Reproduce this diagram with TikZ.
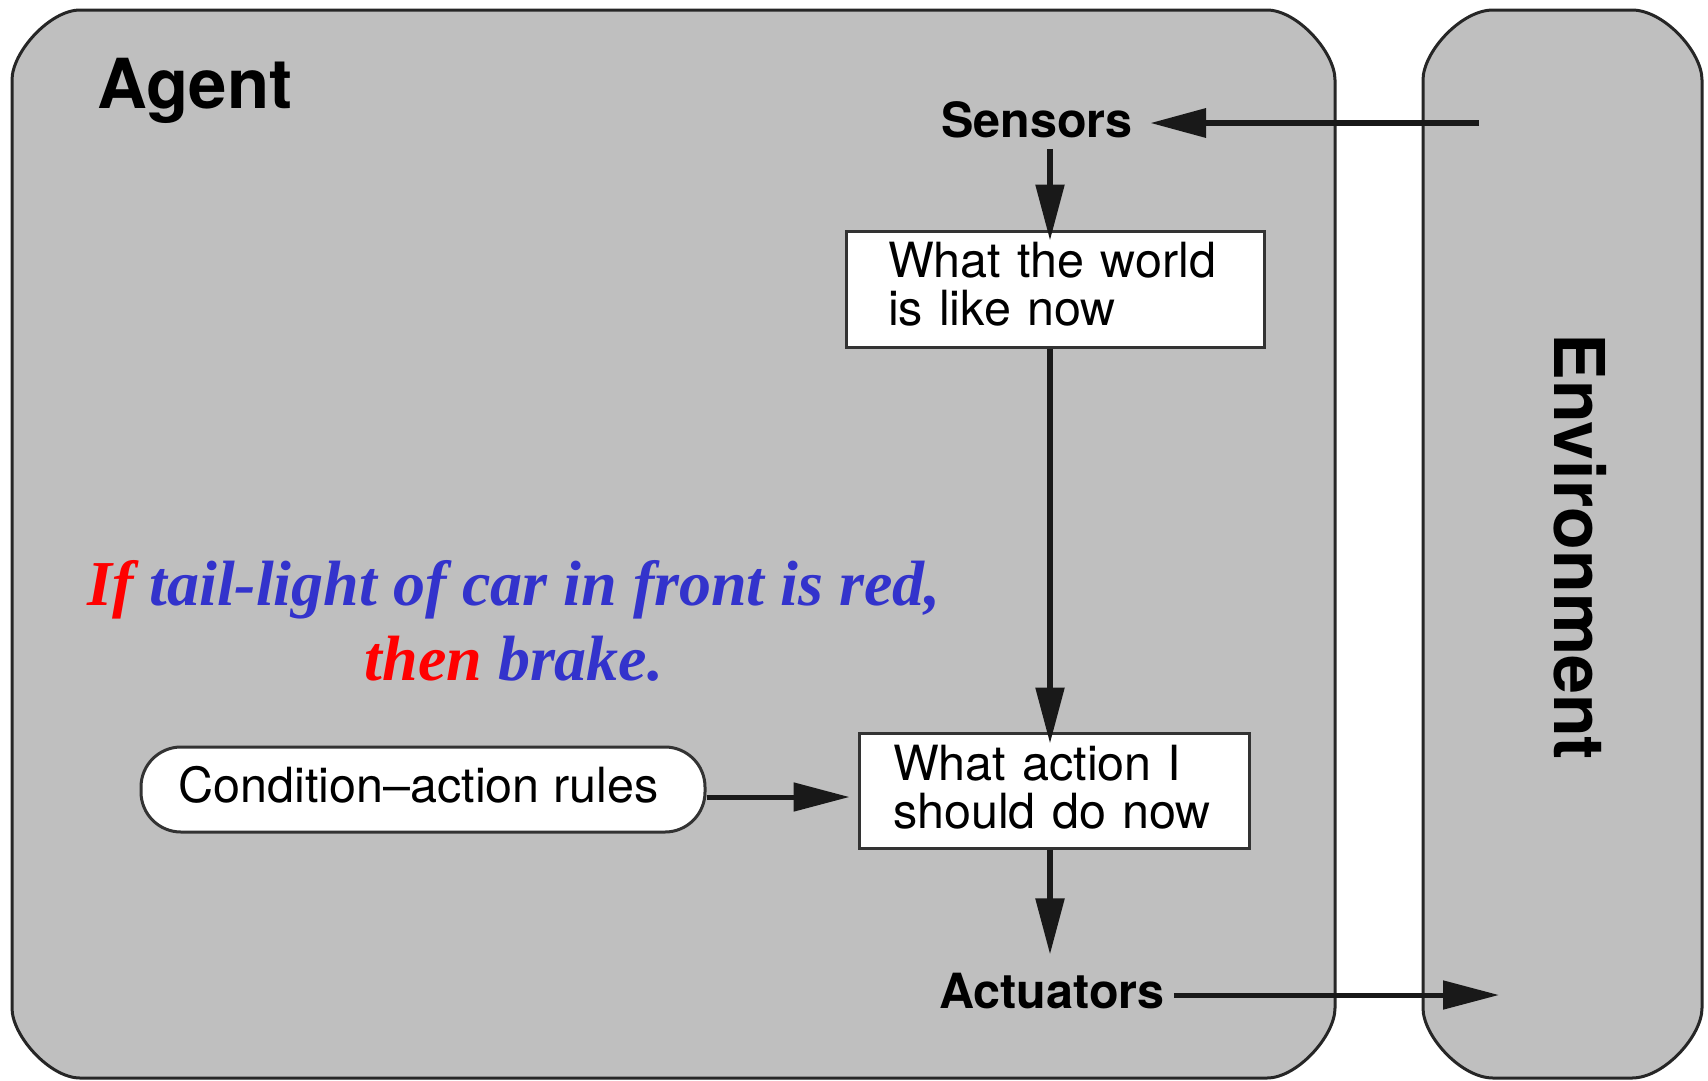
\documentclass[tikz,border=0pt]{standalone}
\usepackage{fontspec}
\usetikzlibrary{arrows.meta}
\newfontfamily\hv{TeX Gyre Heros}
\newfontfamily\tms{Liberation Serif}
\definecolor{panel}{RGB}{191,191,191}
\definecolor{ruleblue}{RGB}{51,51,204}
\definecolor{rulered}{RGB}{255,0,0}
\begin{document}
\begin{tikzpicture}[x=1pt,y=-1pt,
  panelbox/.style={draw=black!85, line width=3pt, fill=panel},
  infobox/.style={draw=black!80, line width=3pt, fill=white, align=left, inner ysep=0pt,
    font=\hv\fontsize{48.5}{48}\selectfont},
  lbl/.style={font=\hv\bfseries\fontsize{48.5}{48}\selectfont},
  arr/.style={-{Triangle[length=56pt,width=28pt]}, line width=5.5pt, draw=black!90},
]
\useasboundingbox (0,0) rectangle (1708,1080);
\fill[white] (0,0) rectangle (1708,1080);
% Agent panel
\path[panelbox] (12,80) .. controls (12,52) and (50,10) .. (80,10) -- (1267,10)
  .. controls (1297,10) and (1335,52) .. (1335,80) -- (1335,1008)
  .. controls (1335,1036) and (1297,1078) .. (1267,1078) -- (80,1078)
  .. controls (50,1078) and (12,1036) .. (12,1008) -- cycle;
% Environment panel
\path[panelbox] (1423,80) .. controls (1423,52) and (1461,10) .. (1493,10) -- (1632,10)
  .. controls (1664,10) and (1702,52) .. (1702,80) -- (1702,1008)
  .. controls (1702,1036) and (1664,1078) .. (1632,1078) -- (1493,1078)
  .. controls (1461,1078) and (1423,1036) .. (1423,1008) -- cycle;

\node[anchor=base west, inner sep=0pt, font=\hv\bfseries\fontsize{69}{69}\selectfont] (agent) at (97,108) {Agent};
\node[anchor=center, rotate=-90, inner sep=0pt, font=\hv\bfseries\fontsize{70}{70}\selectfont] (env) at (1580,547) {Environment};

\node[lbl, anchor=base, inner xsep=17pt, inner ysep=11pt] (sensors) at (1037,137) {Sensors};
\node[lbl, anchor=base, inner xsep=9pt, inner ysep=18pt] (actuators) at (1052,1008) {Actuators};

\node[infobox, text width=334pt, inner xsep=42pt, minimum height=116pt] (world) at (1055,289)
  {What the world\\is like now\rule[-11pt]{0pt}{11pt}};
\node[infobox, text width=322pt, inner xsep=34pt, minimum height=115pt] (action) at (1054,790.5)
  {What action I\\should do now\rule[-8pt]{0pt}{8pt}};

\node[draw=black!80, line width=3pt, fill=white, rounded corners=40pt, minimum width=564pt,
  minimum height=85pt, inner sep=0pt, font=\hv\fontsize{48.5}{48}\selectfont] (rules) at (423,789.5)
  {\hspace*{-9pt}Condition–action rules\rule[-10pt]{0pt}{10pt}};

\node[inner sep=0pt, align=center, font=\tms\bfseries\itshape\fontsize{64}{75}\selectfont] (ifthen) at (514,620.5)
  {\textcolor{rulered}{If} \textcolor{ruleblue}{tail-light of car in front is red,}\\
   \textcolor{rulered}{then} \textcolor{ruleblue}{brake.}};

\coordinate (envin) at (1479,123);
\coordinate (envout) at (1499,995);

\draw[arr, line width=6.5pt] (envin) -- (envin -| sensors.east);
\draw[arr] ([xshift=-5pt]world.north |- sensors.south) -- ([xshift=-5pt,yshift=-11pt]world.north);
\draw[arr] ([xshift=-5pt]world.south) -- ([xshift=-4pt,yshift=-12pt]action.north);
\draw[arr] ([xshift=-4pt]action.south) -- ([xshift=-4pt]action.south |- actuators.north);
\draw[arr, line width=5pt] (actuators.east |- envout) -- (envout);
\draw[arr, line width=5pt, shorten >=8pt] ([yshift=-7.5pt]rules.east) -- ([yshift=-7.5pt]rules.east -| action.west);
\end{tikzpicture}
\end{document}
